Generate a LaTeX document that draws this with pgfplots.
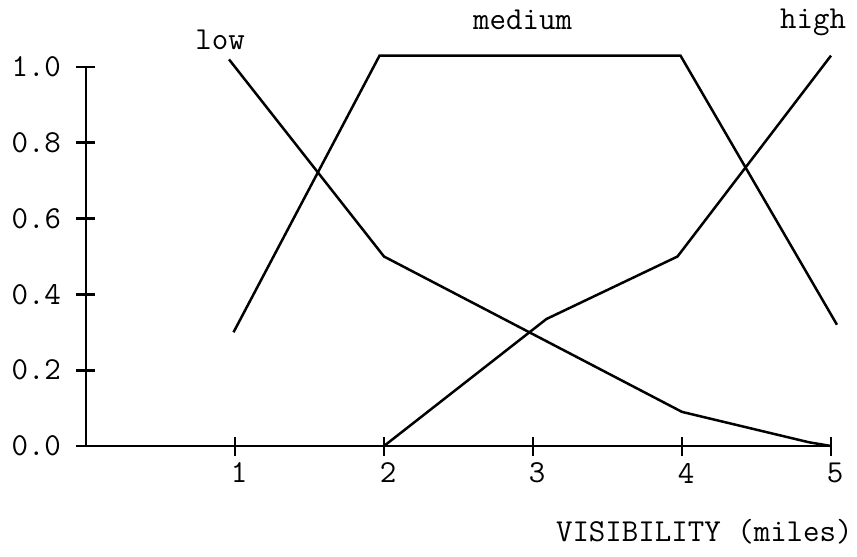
\documentclass[border=0pt]{standalone}
\usepackage{pgfplots}
\pgfplotsset{compat=1.18}
\begin{document}
\begin{tikzpicture}[font=\fontsize{32}{36}\selectfont\ttfamily]
\useasboundingbox (-86pt,-111pt) rectangle (771pt,446pt);
\begin{axis}[
  at={(0pt,0pt)}, anchor=south west,
  scale only axis, width=745pt, height=379pt,
  xmin=0, xmax=5, ymin=0, ymax=1,
  clip=false,
  axis lines=left,
  axis line style={-, line width=2.8pt, black},
  tick style={line width=2.6pt, black},
  tick align=center,
  major tick length=19pt,
  xtick={1,2,3,4,5},
  xticklabels={1,2,3,4,5},
  ytick={0,0.2,0.4,0.6,0.8,1.0},
  yticklabels={0.0,0.2,0.4,0.6,0.8,1.0},
  tick label style={font=\fontsize{32}{36}\selectfont\ttfamily},
  xticklabel style={xshift=4pt, yshift=-4pt},
  yticklabel style={xshift=-12pt},
]
\addplot[black, line width=2.5pt, mark=none] coordinates {(0.96,1.02) (2,0.50) (4,0.09) (4.85,0.01) (5,0.0)};
\addplot[black, line width=2.5pt, mark=none] coordinates {(0.99,0.30) (1.97,1.03) (3.99,1.03) (5.04,0.32)};
\addplot[black, line width=2.5pt, mark=none] coordinates {(2,0.0) (3.09,0.335) (3.97,0.50) (5.0,1.03)};
\node at (axis cs:0.90,1.071) {low};
\node at (axis cs:2.93,1.124) {medium};
\node at (axis cs:4.88,1.119) {high};
\node at (axis cs:4.15,-0.227) {VISIBILITY (miles)};
\end{axis}
\end{tikzpicture}
\end{document}
